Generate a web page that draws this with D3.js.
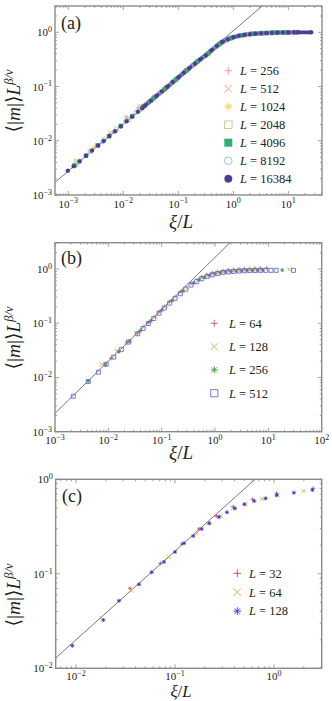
<!DOCTYPE html>
<html>
<head>
<meta charset="utf-8">
<script src="https://cdn.jsdelivr.net/npm/d3@7"></script>
<style>
  body { margin: 0; background: #fff; }
  svg { display: block; }
  text { font-family: "Liberation Serif", "DejaVu Serif", serif; fill: #222; }
</style>
</head>
<body>
<svg id="fig" width="332" height="701"></svg>
<script>
// ---------- panel (a) ----------
const aSizes = [256, 512, 1024, 2048, 4096, 8192, 16384];
const aL256 = [[0.0118,0.0262],[0.0185,0.040],[0.030,0.056],[0.047,0.080],[0.075,0.118],[0.12,0.172],[0.19,0.255],[0.30,0.362],[0.48,0.55],[0.75,0.735],[1.2,0.855],[1.9,0.925],[3.0,0.96],[4.8,0.98],[7.5,0.99],[12,1.0]];
const aL512 = [[0.0059,0.0142],[0.0112,0.0275],[0.0195,0.044],[0.0375,0.0655],[0.060,0.098],[0.095,0.142],[0.15,0.213],[0.24,0.305],[0.38,0.45],[0.60,0.655],[0.95,0.80],[1.5,0.89],[2.4,0.94],[3.8,0.97],[6.0,0.985],[9.5,0.995],[12.5,1.0]];
const aL1024 = [[0.00135,0.0044],[0.0029,0.0076],[0.0057,0.0134],[0.0112,0.0235],[0.021,0.040],[0.035,0.061],[0.055,0.088],[0.087,0.132],[0.14,0.20],[0.22,0.285],[0.35,0.415],[0.55,0.60],[0.87,0.775],[1.4,0.88],[2.2,0.935],[3.5,0.965],[5.5,0.983],[8.7,0.993],[12.5,1.0]];
const aL2048 = [[0.0014,0.0038],[0.0025,0.0064],[0.0045,0.0105],[0.0075,0.0166],[0.0125,0.025],[0.020,0.0375],[0.032,0.0555],[0.050,0.081],[0.080,0.122],[0.13,0.186],[0.20,0.262],[0.32,0.38],[0.50,0.56],[0.80,0.75],[1.3,0.865],[2.0,0.925],[3.2,0.96],[5.0,0.98],[8.0,0.99],[12.5,1.0]];
const aL4096 = [[0.0013,0.0035],[0.0021,0.0053],[0.0034,0.0082],[0.0055,0.0121],[0.0090,0.0188],[0.0145,0.0285],[0.023,0.0425],[0.036,0.062],[0.057,0.090],[0.090,0.134],[0.14,0.198],[0.22,0.287],[0.35,0.41],[0.55,0.60],[0.90,0.78],[1.4,0.88],[2.2,0.935],[3.5,0.965],[5.5,0.983],[9.0,0.993],[14,1.0]];
const aL8192 = [[0.0016,0.0041],[0.0026,0.0064],[0.0042,0.0097],[0.0068,0.0147],[0.011,0.0228],[0.017,0.0333],[0.027,0.0482],[0.043,0.071],[0.068,0.105],[0.11,0.16],[0.17,0.232],[0.27,0.34],[0.43,0.49],[0.68,0.70],[1.1,0.835],[1.7,0.905],[2.7,0.952],[4.3,0.975],[6.8,0.988],[11,0.997]];
const aL16384 = [[0.00098,0.0028],[0.00125,0.0034],[0.0016,0.0042],[0.0021,0.0053],[0.0027,0.0066],[0.0035,0.0082],[0.0044,0.0099],[0.0056,0.0123],[0.0071,0.015],[0.009,0.0184],[0.0115,0.0228],[0.0145,0.0278],[0.0185,0.0343],[0.022,0.0398],[0.025,0.0445],[0.0316,0.0545],[0.04,0.0668],[0.05,0.081],[0.063,0.099],[0.079,0.121],[0.10,0.147],[0.126,0.179],[0.158,0.218],[0.20,0.262],[0.25,0.315],[0.316,0.375],[0.40,0.465],[0.50,0.56],[0.63,0.67],[0.79,0.745],[1.0,0.81],[1.26,0.86],[1.58,0.895],[2.0,0.925],[2.5,0.945],[3.16,0.96],[4.0,0.972],[5.0,0.98],[6.3,0.986],[7.9,0.99],[10,0.995],[12.6,1.0],[15,1.0],[26,1.0]];
const aFit = [[0.00057,0.0017],[5,4.3]];
const aXTicks = [1e-3, 1e-2, 1e-1, 1, 10];
const aYTicks = [1e-3, 1e-2, 1e-1, 1];

// ---------- panel (b) ----------
const bSizes = [64, 128, 256, 512];
const bL64 = [[0.0112,0.0225],[0.0224,0.044],[0.0355,0.066],[0.0562,0.103],[0.0891,0.162],[0.141,0.25],[0.224,0.38],[0.355,0.55],[0.562,0.72],[0.708,0.79],[0.891,0.85],[1.12,0.90],[1.41,0.935],[1.78,0.96],[2.24,0.98],[2.82,0.995],[3.55,1.01],[4.47,1.02],[5.62,1.03],[7.08,1.035],[9.33,1.04]];
const bL128 = [[0.0075,0.0174],[0.0146,0.0306],[0.0215,0.0443],[0.0331,0.065],[0.0479,0.087],[0.0759,0.133],[0.120,0.206],[0.191,0.312],[0.302,0.46],[0.479,0.63],[0.603,0.705],[0.759,0.77],[0.955,0.825],[1.20,0.87],[1.51,0.90],[1.91,0.925],[2.40,0.942],[3.02,0.955],[3.80,0.965],[4.79,0.972],[6.03,0.977],[7.59,0.98],[24.5,0.985]];
const bL256 = [[0.0042,0.0086],[0.0088,0.0172],[0.0158,0.0298],[0.0251,0.047],[0.0398,0.073],[0.0631,0.111],[0.1,0.174],[0.158,0.263],[0.251,0.392],[0.398,0.553],[0.501,0.635],[0.631,0.707],[0.794,0.768],[1.0,0.818],[1.26,0.858],[1.58,0.885],[2.0,0.905],[2.51,0.92],[3.16,0.932],[3.98,0.94],[5.01,0.946],[6.31,0.95],[7.94,0.953],[18.2,0.955]];
const bL512 = [[0.0022,0.0045],[0.0042,0.0084],[0.0065,0.0125],[0.0091,0.0175],[0.0126,0.0238],[0.0175,0.033],[0.024,0.045],[0.0355,0.064],[0.0447,0.080],[0.0562,0.099],[0.0708,0.122],[0.0891,0.153],[0.112,0.191],[0.141,0.235],[0.178,0.288],[0.224,0.35],[0.282,0.425],[0.355,0.505],[0.447,0.585],[0.562,0.66],[0.708,0.725],[0.891,0.78],[1.12,0.825],[1.41,0.86],[1.78,0.883],[2.24,0.902],[2.82,0.916],[3.55,0.926],[4.47,0.934],[5.62,0.939],[7.08,0.943],[8.91,0.945],[11.2,0.945],[14,0.945],[29.6,0.945]];
const bFit = [[0.001,0.00219],[5,7.66]];
const bXTicks = [1e-3, 1e-2, 1e-1, 1, 10, 100];
const bYTicks = [1e-3, 1e-2, 1e-1, 1];

// ---------- panel (c) ----------
const cSizes = [32, 64, 128];
const cL32 = [[0.0351,0.0703],[0.0711,0.129],[0.117,0.2065],[0.1746,0.298],[0.261,0.409],[0.388,0.513],[0.610,0.614],[1.064,0.711],[2.49,0.803]];
const cL64 = [[0.0179,0.0343],[0.036,0.0662],[0.0869,0.1507],[0.1656,0.2685],[0.2203,0.342],[0.2897,0.409],[0.383,0.493],[0.518,0.548],[0.762,0.619],[1.089,0.683],[1.995,0.752]];
const cL128 = [[0.00918,0.01734],[0.01888,0.0324],[0.0272,0.0519],[0.0433,0.0774],[0.0581,0.1037],[0.0774,0.1334],[0.1,0.170],[0.1233,0.2104],[0.1531,0.2512],[0.1862,0.2979],[0.222,0.342],[0.278,0.399],[0.335,0.448],[0.403,0.493],[0.501,0.544],[0.632,0.589],[0.824,0.629],[1.064,0.678],[1.59,0.721],[2.44,0.771]];
const cFit = [[0.006,0.0124],[1.5,2.21]];
const cXTicks = [1e-2, 1e-1, 1];
const cYTicks = [1e-2, 1e-1, 1];

const svg = d3.select("#fig");
const axisGray = "#8a8a8a";

function markerPath(shape, s) {
  if (shape === "plus") return `M${-s},0H${s}M0,${-s}V${s}`;
  if (shape === "x") return `M${-s},${-s}L${s},${s}M${-s},${s}L${s},${-s}`;
  if (shape === "star") {
    let d = s * 0.72;
    return `M${-s},0H${s}M0,${-s}V${s}M${-d},${-d}L${d},${d}M${-d},${d}L${d},${-d}`;
  }
  if (shape === "square") return `M${-s},${-s}H${s}V${s}H${-s}Z`;
  return `M${s},0A${s},${s} 0 1,1 ${-s},0A${s},${s} 0 1,1 ${s},0Z`;
}

function drawMarker(g, shape, filled, color, s, px, py) {
  g.append("path")
    .attr("d", markerPath(shape, s))
    .attr("transform", "translate(" + px + "," + py + ")")
    .attr("fill", filled ? color : "none")
    .attr("stroke", color)
    .attr("stroke-width", filled ? 0.4 : 0.9);
}

function tickLabel(sel, v) {
  let e = Math.round(Math.log10(v));
  sel.append("tspan").text("10");
  sel.append("tspan").attr("dy", -4.2).attr("font-size", 8).text(e < 0 ? "\u2212" + (-e) : e);
}

function drawPanel(p) {
  const x = d3.scaleLog().domain(p.xDom).range([p.left, p.right]);
  const y = d3.scaleLog().domain(p.yDom).range([p.bottom, p.top]);
  const g = svg.append("g");

  const clipId = "clip-" + p.id;
  g.append("clipPath").attr("id", clipId).append("rect")
    .attr("x", p.left).attr("y", p.top)
    .attr("width", p.right - p.left).attr("height", p.bottom - p.top);

  // minor + major ticks, inward on all four sides
  function logTicks(dom) {
    let out = [];
    let lo = Math.floor(Math.log10(dom[0])), hi = Math.ceil(Math.log10(dom[1]));
    for (let e = lo; e <= hi; e++) {
      for (let k = 1; k < 10; k++) {
        let v = k * Math.pow(10, e);
        if (v >= dom[0] * 0.999 && v <= dom[1] * 1.001) out.push({v: v, major: k === 1});
      }
    }
    return out;
  }
  const tg = g.append("g").attr("stroke", axisGray).attr("stroke-width", 0.8);
  logTicks(p.xDom).forEach(t => {
    let len = t.major ? 4 : 2;
    let px = x(t.v);
    tg.append("line").attr("x1", px).attr("x2", px).attr("y1", p.bottom).attr("y2", p.bottom - len);
    tg.append("line").attr("x1", px).attr("x2", px).attr("y1", p.top).attr("y2", p.top + len);
  });
  logTicks(p.yDom).forEach(t => {
    let len = t.major ? 4 : 2;
    let py = y(t.v);
    tg.append("line").attr("y1", py).attr("y2", py).attr("x1", p.left).attr("x2", p.left + len);
    tg.append("line").attr("y1", py).attr("y2", py).attr("x1", p.right).attr("x2", p.right - len);
  });

  // fit line
  g.append("path")
    .datum(p.fit)
    .attr("clip-path", "url(#" + clipId + ")")
    .attr("d", d3.line().x(d => x(d[0])).y(d => y(d[1])))
    .attr("fill", "none")
    .attr("stroke", "#555")
    .attr("stroke-width", 0.8);

  // dense bands (panel a)
  p.series.forEach(s => {
    if (!s.band) return;
    g.append("path")
      .datum(s.data.filter(d => d[0] >= s.band.from))
      .attr("d", d3.line().curve(d3.curveMonotoneX).x(d => x(d[0])).y(d => y(d[1])))
      .attr("fill", "none")
      .attr("stroke", s.color)
      .attr("stroke-width", s.band.width)
      .attr("stroke-linecap", "round");
  });

  // data markers
  p.series.forEach(s => {
    const mg = g.append("g");
    s.data.forEach(d => drawMarker(mg, s.shape, s.filled, s.color, p.msize, x(d[0]), y(d[1])));
  });

  // frame
  g.append("rect")
    .attr("x", p.left).attr("y", p.top)
    .attr("width", p.right - p.left).attr("height", p.bottom - p.top)
    .attr("fill", "none").attr("stroke", axisGray).attr("stroke-width", 1.4);

  // tick labels
  p.xTicks.forEach(v => {
    g.append("text").attr("x", x(v)).attr("y", p.bottom + p.xtickDy)
      .attr("text-anchor", "middle").attr("font-size", 11).attr("fill", "#333")
      .call(tickLabel, v);
  });
  p.yTicks.forEach(v => {
    g.append("text").attr("x", p.left - 3).attr("y", y(v) + 4)
      .attr("text-anchor", "end").attr("font-size", 11).attr("fill", "#333")
      .call(tickLabel, v);
  });

  // legend
  p.series.forEach((s, i) => {
    let ly = p.legend.y0 + i * p.legend.dy;
    drawMarker(g, s.shape, s.filled, s.color, p.lsize, p.legend.mx, ly);
    let t = g.append("text").attr("x", p.legend.tx).attr("y", ly + 4.3).attr("font-size", 12.5);
    t.append("tspan").attr("font-style", "italic").text("L");
    t.append("tspan").text(" = " + s.L);
  });

  // panel label
  g.append("text").attr("x", p.labelPos[0]).attr("y", p.labelPos[1])
    .attr("font-size", 18).text(p.label);

  // axis labels
  let xl = g.append("text").attr("x", p.xlabelX).attr("y", p.xlabelY)
    .attr("text-anchor", "middle").attr("font-size", p.xlabelSize);
  xl.append("tspan").attr("font-style", "italic").text("\u03BE");
  xl.append("tspan").text("/");
  xl.append("tspan").attr("font-style", "italic").text("L");

  let yl = g.append("text")
    .attr("transform", "translate(" + 20 + "," + p.ylabelY + ") rotate(-90)")
    .attr("text-anchor", "middle").attr("font-size", 19.5);
  yl.append("tspan").text("\u27E8|");
  yl.append("tspan").attr("font-style", "italic").text("m");
  yl.append("tspan").text("|\u27E9");
  yl.append("tspan").attr("font-style", "italic").text("L");
  yl.append("tspan").attr("dy", -7).attr("font-size", 12.5).attr("font-style", "italic").text("\u03B2/\u03BD");
}

const panels = [
  {
    id: "a", left: 55, right: 322, top: 6, bottom: 195,
    xDom: [Math.pow(10, -3.242), Math.pow(10, 1.612)], yDom: [1e-3, Math.pow(10, 0.485)],
    xTicks: aXTicks, yTicks: aYTicks, fit: aFit, xtickDy: 12.5,
    label: "(a)", labelPos: [61, 28.5], xlabelX: 181, xlabelY: 228, xlabelSize: 19, ylabelY: 101,
    msize: 2.0, lsize: 3.8,
    legend: {mx: 228.3, tx: 240, y0: 70.7, dy: 18},
    series: [
      {L: aSizes[0], data: aL256, shape: "plus", filled: false, color: "#f28cb8"},
      {L: aSizes[1], data: aL512, shape: "x", filled: false, color: "#f7a27c"},
      {L: aSizes[2], data: aL1024, shape: "star", filled: false, color: "#f2d34c"},
      {L: aSizes[3], data: aL2048, shape: "square", filled: false, color: "#b3d68a"},
      {L: aSizes[4], data: aL4096, shape: "square", filled: true, color: "#2fae72", band: {from: 0.02, width: 4.4}},
      {L: aSizes[5], data: aL8192, shape: "circle", filled: false, color: "#86bbe3"},
      {L: aSizes[6], data: aL16384, shape: "circle", filled: true, color: "#4e3b95", band: {from: 0.02, width: 3.8}}
    ]
  },
  {
    id: "b", left: 55, right: 321.7, top: 242.7, bottom: 431.7,
    xDom: [1e-3, 1e2], yDom: [1e-3, Math.pow(10, 0.485)],
    xTicks: bXTicks, yTicks: bYTicks, fit: bFit, xtickDy: 12.5,
    label: "(b)", labelPos: [61, 263.5], xlabelX: 181, xlabelY: 459, xlabelSize: 19, ylabelY: 338,
    msize: 2.0, lsize: 3.6,
    legend: {mx: 214.3, tx: 229, y0: 323.3, dy: 23.3},
    series: [
      {L: bSizes[0], data: bL64, shape: "plus", filled: false, color: "#d35a5e"},
      {L: bSizes[1], data: bL128, shape: "x", filled: false, color: "#e3a54e"},
      {L: bSizes[2], data: bL256, shape: "star", filled: false, color: "#3d9c44"},
      {L: bSizes[3], data: bL512, shape: "square", filled: false, color: "#6b6bd3"}
    ]
  },
  {
    id: "c", left: 55.7, right: 321.7, top: 479.3, bottom: 668.3,
    xDom: [Math.pow(10, -2.205), Math.pow(10, 0.482)], yDom: [1e-2, 1],
    xTicks: cXTicks, yTicks: cYTicks, fit: cFit, xtickDy: 11.5,
    label: "(c)", labelPos: [62, 501.5], xlabelX: 181, xlabelY: 697.3, xlabelSize: 16.8, ylabelY: 595,
    msize: 2.0, lsize: 3.8,
    legend: {mx: 237.3, tx: 249, y0: 573.3, dy: 18.9},
    series: [
      {L: cSizes[0], data: cL32, shape: "plus", filled: false, color: "#c9464c"},
      {L: cSizes[1], data: cL64, shape: "x", filled: false, color: "#e6a640"},
      {L: cSizes[2], data: cL128, shape: "star", filled: false, color: "#3838cc"}
    ]
  }
];

panels.forEach(drawPanel);
</script>
</body>
</html>
